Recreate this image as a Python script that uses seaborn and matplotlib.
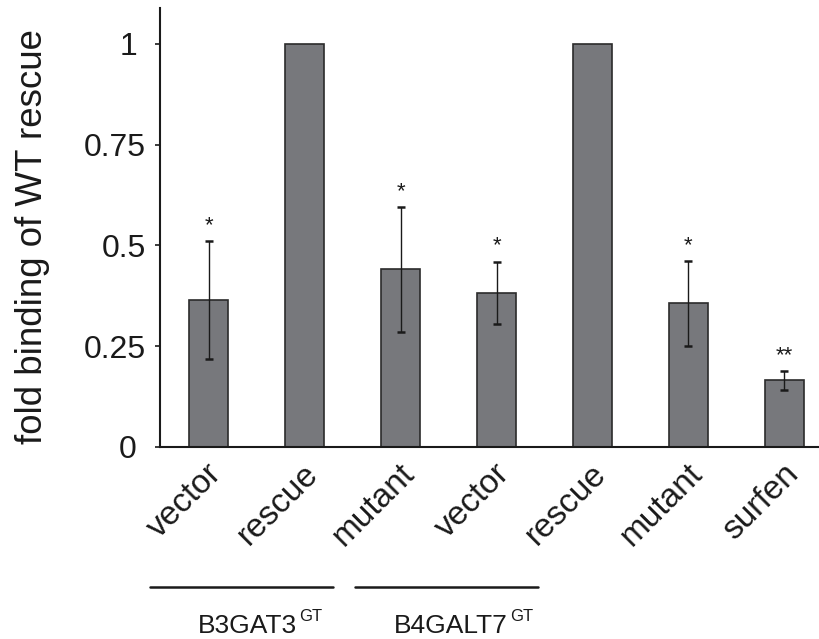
import numpy as np
import pandas as pd
import seaborn as sns
import matplotlib.pyplot as plt
from matplotlib import font_manager, transforms

# --- data ---
conditions = ['B3GAT3 vector', 'B3GAT3 rescue', 'B3GAT3 mutant',
              'B4GALT7 vector', 'B4GALT7 rescue', 'B4GALT7 mutant', 'surfen']
tick_labels = ['vector', 'rescue', 'mutant', 'vector', 'rescue', 'mutant', 'surfen']
fold_binding = [0.365, 1.0, 0.441, 0.383, 1.0, 0.356, 0.165]
err = [0.146, 0.0, 0.155, 0.077, 0.0, 0.105, 0.023]
stars = ['*', '', '*', '*', '', '*', '**']
group_names = ['B3GAT3', 'B4GALT7']
group_sup = 'GT'
y_ticks = [0, 0.25, 0.5, 0.75, 1]
y_tick_labels = ['0', '0.25', '0.5', '0.75', '1']

df = pd.DataFrame({'condition': conditions, 'fold': fold_binding, 'err': err})

sns.set_theme(style='white')
plt.rcParams['font.family'] = ['Liberation Sans', 'DejaVu Sans']
installed = {f.name for f in font_manager.fontManager.ttflist}
narrow = 'Liberation Sans Narrow' if 'Liberation Sans Narrow' in installed else 'Liberation Sans'
group_size = 22 if narrow == 'Liberation Sans Narrow' else 19

fig = plt.figure(figsize=(8.2, 6.39), dpi=100)
ax = fig.add_axes([160 / 820, 192 / 639, 660 / 820, 439 / 639])

sns.barplot(
    data=df, x='condition', y='fold',
    color='#77787c', saturation=1, width=0.41,
    edgecolor='#2b2b2b', linewidth=1.2,
    errorbar=None, ax=ax
)

# error bars only where there is spread
has_err = df['err'] > 0
xpos = np.arange(len(df))
ax.errorbar(xpos[has_err], df['fold'][has_err], yerr=df['err'][has_err],
            fmt='none', ecolor='#1a1a1a', elinewidth=1.0, capsize=3.2, capthick=1.8)

# significance stars above the caps
for i, row in df.iterrows():
    if stars[i]:
        ax.annotate(stars[i], xy=(i, row['fold'] + row['err']), xytext=(0, 10),
                    textcoords='offset pixels', ha='center', va='baseline',
                    fontsize=16, color='#1a1a1a')

ax.set_xlim(-0.506, 6.37)
ax.set_ylim(0, 1.089)
ax.set_yticks(y_ticks)
ax.set_yticklabels(y_tick_labels, fontsize=23, color='#1a1a1a')
ax.set_xticks(xpos)
ax.set_xticklabels(tick_labels, fontsize=24, rotation=45, ha='right',
                   va='top', rotation_mode='anchor', color='#1a1a1a')
ax.tick_params(axis='y', length=3.6, width=1.2, pad=6.5, left=True, color='#1a1a1a')
ax.tick_params(axis='x', length=0, pad=8)

# integer labels sit a little further left in the original
for lab in ax.get_yticklabels():
    if '.' not in lab.get_text():
        lab.set_transform(lab.get_transform() +
                          transforms.ScaledTranslation(-9 / 100, 0, fig.dpi_scale_trans))
for lab in ax.get_xticklabels():
    lab.set_transform(lab.get_transform() +
                      transforms.ScaledTranslation(-2 / 100, 0, fig.dpi_scale_trans))

for side in ['top', 'right']:
    ax.spines[side].set_visible(False)
for side in ['left', 'bottom']:
    ax.spines[side].set_linewidth(1.5)
    ax.spines[side].set_color('#1a1a1a')

ax.set_xlabel('')
ax.set_ylabel('fold binding of WT rescue', fontsize=26.4, color='#1a1a1a')
ax.yaxis.set_label_coords(-0.167, 0.48)

# group brackets under the labels
trans = transforms.blended_transform_factory(ax.transData, ax.transAxes)
for (x0, x1) in [(-0.61, 1.297), (1.527, 3.43)]:
    ax.plot([x0, x1], [-0.318, -0.318], color='#1a1a1a', lw=1.8,
            transform=trans, clip_on=False)
for name, x0 in zip(group_names, [-0.11, 1.93]):
    t = ax.text(x0, -0.424, name, transform=trans, ha='left', va='baseline',
                fontsize=group_size, family=[narrow, 'DejaVu Sans'], color='#1a1a1a')
    ax.annotate(group_sup, xy=(1, 0), xycoords=t, xytext=(2, 17),
                textcoords='offset pixels', ha='left', va='baseline',
                fontsize=12, family=[narrow, 'DejaVu Sans'], color='#1a1a1a')

fig.savefig('out.png', dpi=100)
